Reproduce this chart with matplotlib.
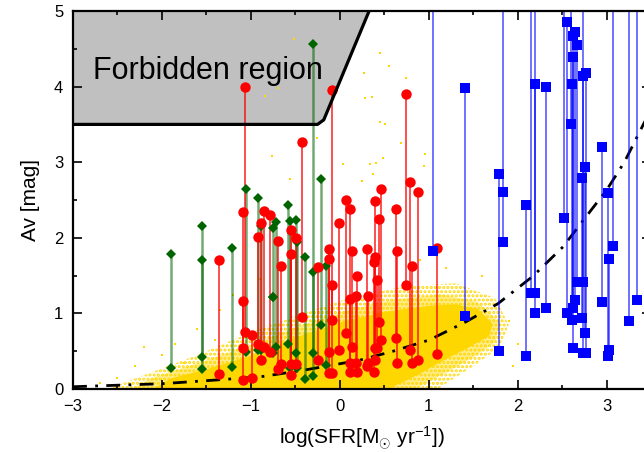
import numpy as np
import matplotlib.pyplot as plt
from matplotlib.patches import Polygon
from matplotlib.ticker import MultipleLocator

plt.rcParams['font.family'] = ['Liberation Sans', 'DejaVu Sans']
plt.rcParams['mathtext.fontset'] = 'custom'
plt.rcParams['mathtext.rm'] = 'Liberation Sans'
plt.rcParams['mathtext.it'] = 'Liberation Sans'
plt.rcParams['hatch.linewidth'] = 1.5

# 低值 / 高值 Av，同一个 SFR
green_x  = [-1.90, -1.55, -1.55, -1.21, -1.06, -0.92, -0.89, -0.75, -0.75, -0.72, -0.58, -0.56,
            -0.49, -0.48, -0.39, -0.30, -0.30, -0.21, -0.16]
green_lo = [0.28, 0.42, 0.26, 0.29, 0.49, 0.52, 0.52, 0.47, 1.22, 0.56, 0.60, 0.28,
            0.47, 0.28, 0.13, 0.17, 0.48, 0.85, 0.32]
green_hi = [1.79, 2.16, 1.70, 1.86, 2.64, 2.52, 2.16, 1.22, 2.13, 2.21, 2.43, 2.22,
            2.24, 1.95, 1.75, 4.57, 1.55, 2.78, 1.63]

red_x  = [-1.36, -1.09, -1.09, -1.07, -0.99, -0.92, -0.89, -0.85, -0.79, -0.69, -0.66, -0.55,
          -0.55, -0.49, -0.43, -0.24, -0.12, -0.12, -0.09, -0.09, -0.01, 0.07, 0.12, 0.14,
          0.19, 0.18, 0.12, 0.31, 0.32, 0.40, 0.44, 0.46, 0.40, 0.38, 0.42, 0.63, 0.64,
          0.74, 0.79, 0.88, 0.81, 1.09]
red_lo = [0.20, 0.54, 0.12, 0.76, 0.14, 0.60, 0.39, 0.56, 0.49, 0.27, 0.33, 0.19,
          0.33, 0.33, 0.95, 0.38, 0.49, 0.21, 0.91, 0.21, 0.51, 0.74, 0.34, 0.55,
          0.23, 0.34, 0.23, 0.31, 0.34, 0.54, 0.88, 0.65, 0.39, 0.23, 0.54, 0.68, 0.34,
          1.37, 0.51, 0.39, 0.34, 0.46]
red_hi = [1.71, 2.34, 1.16, 3.99, 0.72, 2.01, 2.20, 2.35, 2.30, 1.96, 1.63, 2.10,
          1.79, 2.00, 3.27, 1.61, 1.85, 1.72, 3.96, 1.38, 2.19, 2.50, 2.38, 1.82,
          1.49, 1.23, 1.19, 1.85, 1.23, 2.49, 2.25, 2.64, 1.75, 1.68, 1.44, 2.38, 1.82,
          3.90, 2.74, 2.61, 1.63, 1.86]

# 上限超出 5 的取 6（画出图框外）
blue_x  = [1.05, 1.41, 1.79, 1.84, 1.84, 2.09, 2.15, 2.20, 2.19, 2.32, 2.52, 2.55, 2.60,
           2.61, 2.62, 2.62, 2.64, 2.67, 2.72, 2.73, 2.73, 2.76, 2.77, 2.95, 3.02, 3.03,
           3.07, 3.25, 3.34]
blue_lo = [1.83, 0.96, 0.50, 1.95, 2.61, 0.44, 1.27, 1.01, 1.27, 1.07, 2.26, 1.00, 3.50,
           0.91, 0.54, 1.07, 1.18, 1.42, 0.94, 1.42, 0.47, 0.74, 0.47, 1.15, 0.44, 0.52,
           1.89, 0.90, 1.18]
blue_hi = [6.0, 3.98, 2.85, 2.61, 6.0, 2.43, 6.0, 6.0, 4.04, 4.00, 6.0, 4.85, 6.0,
           4.04, 4.39, 4.67, 4.72, 4.55, 2.79, 6.0, 4.14, 2.93, 4.18, 3.20, 2.59, 1.72,
           6.0, 6.0, 6.0]

# 点划线
curve_x = [-3.0, -2.5, -2.0, -1.5, -0.9, -0.4, 0.22, 0.6, 1.01, 1.42, 1.78, 2.17, 2.51,
           2.77, 3.00, 3.2, 3.5]
curve_y = [0.03, 0.05, 0.07, 0.11, 0.16, 0.25, 0.38, 0.50, 0.65, 0.89, 1.13, 1.49, 1.88,
           2.28, 2.63, 3.00, 3.70]

# 禁区边界
forbid_x = [-3.0, -0.25, -0.18, 0.33]
forbid_y = [3.5, 3.5, 3.56, 5.0]

# 黄色点云：密集核心 + 过渡层 + 稀疏外围
core_x = [-2.1, -1.9, -1.5, -1.0, -0.5, 0.0, 0.5, 1.0, 1.3, 1.55, 1.72, 1.68, 1.45, 1.2,
          0.9, 0.55]
core_y = [0.0, 0.14, 0.26, 0.44, 0.68, 0.88, 1.02, 1.10, 1.12, 1.06, 0.86, 0.70, 0.55,
          0.40, 0.20, 0.0]
mid_x = [-2.35, -2.1, -1.55, -1.0, -0.48, 0.05, 0.6, 1.15, 1.55, 1.8, 1.75, 1.5, 1.2, 0.85]
mid_y = [0.0, 0.15, 0.36, 0.58, 0.82, 1.03, 1.18, 1.25, 1.15, 0.88, 0.62, 0.42, 0.22, 0.0]
halo_x = [-2.6, -2.3, -1.6, -1.0, -0.45, 0.1, 0.7, 1.3, 1.75, 1.9, 1.8, 1.5, 1.1]
halo_y = [0.0, 0.14, 0.45, 0.75, 0.98, 1.20, 1.35, 1.40, 1.20, 0.85, 0.55, 0.30, 0.0]
speck_x = [-2.5, -2.3, -2.0, -1.85, -1.6, -1.35, -1.2, -0.9, -2.7, -2.2, -1.75, -1.4,
           -0.51, -0.70, -0.84, -0.76, -0.26, -0.56, 0.45, 0.55, 0.27, 0.74, 0.28, 0.36,
           0.45, 0.51, 0.69, 0.96, 0.95, 0.49, 0.41, 0.34, 0.04, 0.25, 0.37, 1.9, 2.0,
           1.95, 1.6, 1.2, 0.9, 2.1]
speck_y = [0.15, 0.30, 0.45, 0.60, 0.80, 1.05, 1.25, 1.45, 0.08, 0.55, 0.35, 0.65,
           4.63, 3.98, 3.88, 3.08, 3.32, 2.78, 4.45, 4.27, 4.18, 4.12, 3.85, 3.86,
           3.53, 3.51, 3.26, 3.11, 2.95, 3.05, 2.99, 2.98, 2.98, 2.75, 2.84, 0.9, 0.6,
           0.3, 1.5, 1.6, 1.7, 0.45]

fig = plt.figure(figsize=(6.44, 4.53), dpi=100)
ax = fig.add_axes([73 / 644, 64 / 453, 578 / 644, 378 / 453])

# 禁区
ax.add_patch(Polygon(list(zip(forbid_x + [0.33, -3.0], forbid_y + [5.0, 5.0])),
                     closed=True, facecolor='#c0c0c0', edgecolor='none', zorder=0))
ax.plot(forbid_x, forbid_y, color='black', lw=2.3, zorder=5, solid_capstyle='butt')
ax.text(-2.78, 4.10, 'Forbidden region', fontsize=22, ha='left', va='baseline', zorder=6)

ax.add_patch(Polygon(list(zip(halo_x, halo_y)), closed=True, facecolor='none',
                     edgecolor='#ffd700', hatch='....', lw=0, zorder=1))
ax.add_patch(Polygon(list(zip(mid_x, mid_y)), closed=True, facecolor='#ffd700',
                     alpha=0.45, edgecolor='none', zorder=1))
ax.add_patch(Polygon(list(zip(core_x, core_y)), closed=True, facecolor='#ffd700',
                     edgecolor='none', zorder=1))
ax.plot(speck_x, speck_y, 's', color='#ffd700', ms=1.5, mew=0, zorder=1)

ax.plot(curve_x, curve_y, color='black', lw=2, linestyle=(0, (5, 3, 1, 3)), zorder=2)

for x, lo, hi in zip(green_x, green_lo, green_hi):
    ax.plot([x, x], [lo, hi], color='#006400', lw=1.8, alpha=0.55, zorder=3)
ax.plot(green_x + green_x, green_lo + green_hi, 'D', color='#006400', ms=5.5, mew=0, zorder=4)

for x, lo, hi in zip(red_x, red_lo, red_hi):
    ax.plot([x, x], [lo, hi], color='red', lw=1.3, alpha=0.75, zorder=3)
ax.plot(red_x + red_x, red_lo + red_hi, 'o', color='red', ms=7.5, mew=0, zorder=4)

for x, lo, hi in zip(blue_x, blue_lo, blue_hi):
    ax.plot([x, x], [lo, hi], color='blue', lw=1.3, alpha=0.6, zorder=3)
ax.plot(blue_x + blue_x, blue_lo + blue_hi, 's', color='blue', ms=7.5, mew=0, zorder=4)

ax.set_xlim(-3, 3.5)
ax.set_ylim(0, 5)
ax.xaxis.set_major_locator(MultipleLocator(1))
ax.xaxis.set_minor_locator(MultipleLocator(0.5))
ax.yaxis.set_major_locator(MultipleLocator(1))
ax.yaxis.set_minor_locator(MultipleLocator(0.5))
ax.tick_params(which='both', direction='in', top=True, right=True, width=1.2, labelsize=12)
ax.tick_params(which='major', length=6.5, pad=7)
ax.tick_params(which='minor', length=3)
for s in ax.spines.values():
    s.set_linewidth(1.6)
    s.set_zorder(7)

ax.set_xlabel(r'log(SFR[M$_{\odot}$ yr$^{-1}$])', fontsize=15, labelpad=8)
ax.set_ylabel('Av [mag]', fontsize=15, labelpad=10)

fig.savefig('out.png', dpi=100)
